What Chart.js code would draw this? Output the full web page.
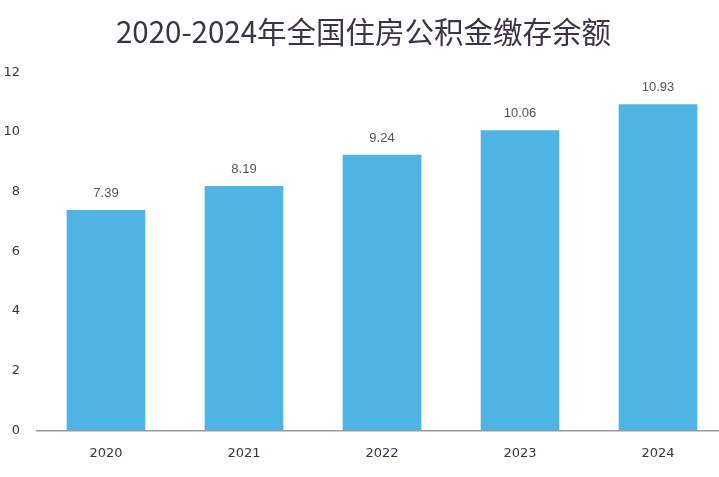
<!DOCTYPE html>
<html>
<head>
<meta charset="utf-8">
<script src="https://cdn.jsdelivr.net/npm/chart.js@4"></script>
<style>
  html, body { margin: 0; padding: 0; background: #fff; overflow: hidden; }
  #wrap { width: 727px; height: 477px; }
</style>
</head>
<body>
<div id="wrap"><canvas id="fund-chart"></canvas></div>
<script>
// data
const years = ['2020', '2021', '2022', '2023', '2024'];
const balances = [7.39, 8.19, 9.24, 10.06, 10.93];
const yTicks = [0, 2, 4, 6, 8, 10, 12];

// draw the value above each bar
const valueLabels = {
    id: 'valueLabels',
    afterDatasetsDraw(chart) {
        const ctx = chart.ctx;
        const meta = chart.getDatasetMeta(0);
        ctx.save();
        ctx.font = '13px "Liberation Sans", Arial, sans-serif';
        ctx.fillStyle = '#555555';
        ctx.textAlign = 'center';
        ctx.textBaseline = 'bottom';
        meta.data.forEach((bar, i) => {
            ctx.fillText(balances[i].toFixed(2), bar.x, bar.y - 10);
        });
        ctx.restore();
    }
};

function createChart() {
    const ctx = document.getElementById('fund-chart').getContext('2d');
    new Chart(ctx, {
        type: 'bar',
        data: {
            labels: years,
            datasets: [{
                label: '缴存余额',
                data: balances,
                backgroundColor: '#4fb4e4',
                borderWidth: 0,
                categoryPercentage: 1,
                barPercentage: 0.57
            }]
        },
        options: {
            responsive: true,
            maintainAspectRatio: false,
            animation: false,
            layout: { padding: { top: 0, right: 0, bottom: 1, left: 0 } },
            plugins: {
                legend: { display: false },
                tooltip: { enabled: false },
                title: {
                    display: true,
                    text: '2020-2024年全国住房公积金缴存余额',
                    color: '#3b3444',
                    font: { family: '"Noto Sans CJK SC", sans-serif', size: 29.5, weight: 'normal' },
                    padding: { top: 14, bottom: 23 }
                }
            },
            scales: {
                x: {
                    grid: { display: false, drawTicks: false },
                    border: { display: true, color: '#9a9a9a', width: 1.5 },
                    ticks: {
                        color: '#3b3444',
                        padding: 15,
                        font: { family: '"DejaVu Sans", sans-serif', size: 13 }
                    }
                },
                y: {
                    min: 0,
                    max: 12,
                    afterBuildTicks: (scale) => {
                        scale.ticks = yTicks.map(v => ({ value: v }));
                    },
                    afterFit: (scale) => { scale.width = 37; },
                    grid: { display: false, drawTicks: false },
                    border: { display: false },
                    ticks: {
                        color: '#3b3444',
                        padding: 17,
                        font: { family: '"DejaVu Sans", sans-serif', size: 13 }
                    }
                }
            }
        },
        plugins: [valueLabels]
    });
}

createChart();
</script>
</body>
</html>
